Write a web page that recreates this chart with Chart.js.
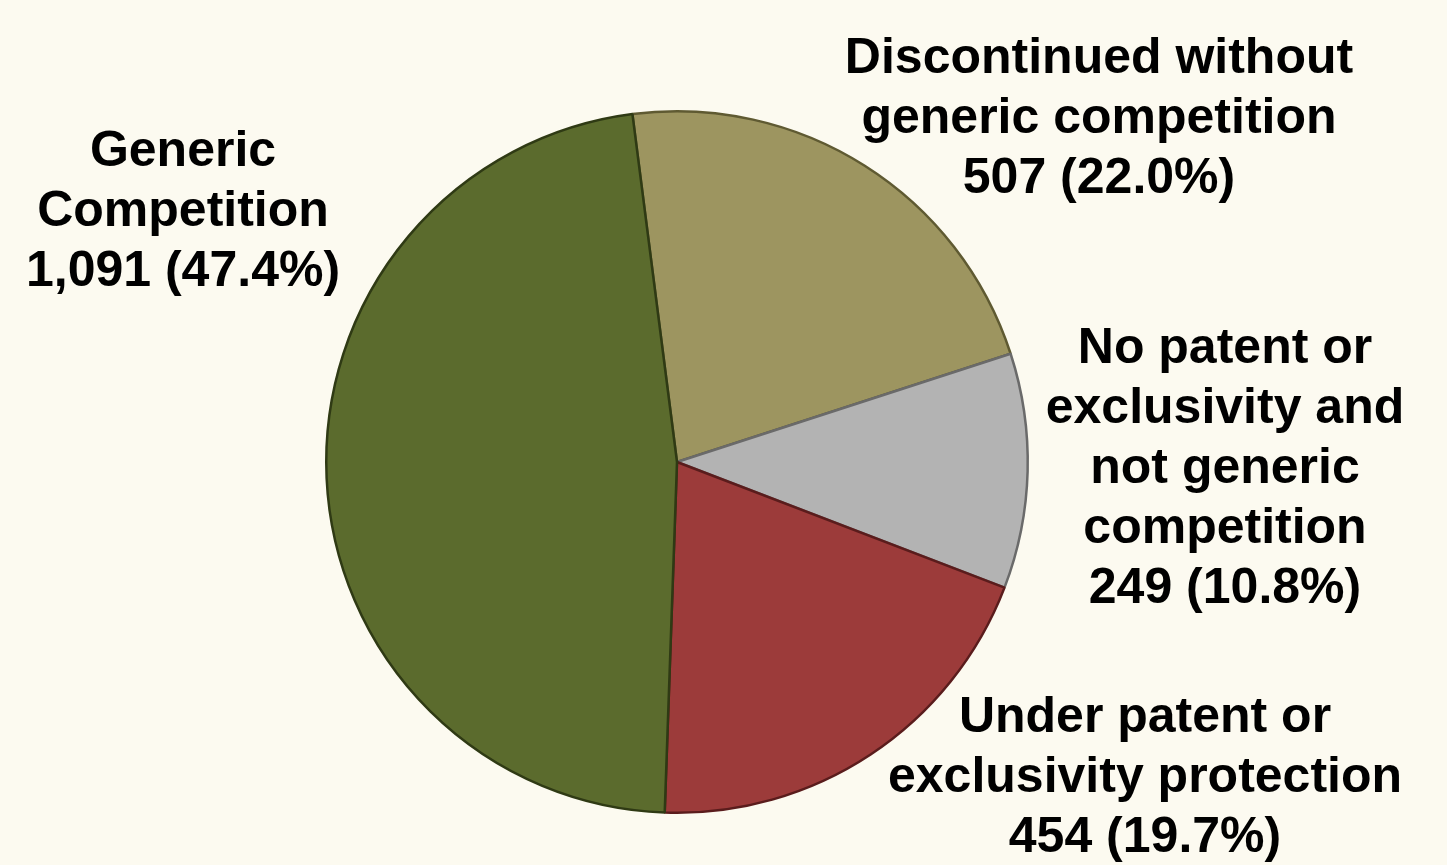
<!DOCTYPE html>
<html>
<head>
<meta charset="utf-8">
<script src="https://cdn.jsdelivr.net/npm/chart.js@4.4.1/dist/chart.umd.min.js"></script>
<style>
  html, body { margin: 0; padding: 0; background: #fcfaf0; }
  #wrap { width: 1447px; height: 865px; position: relative; }
</style>
</head>
<body>
<div id="wrap"><canvas id="myChart"></canvas></div>
<script>
/* chart data */
const categories = [
  'Discontinued without generic competition',
  'No patent or exclusivity and not generic competition',
  'Under patent or exclusivity protection',
  'Generic Competition'
];
const counts = [507, 249, 454, 1091];
const percents = ['22.0%', '10.8%', '19.7%', '47.4%'];
const labelLines = [
  ['Discontinued without', 'generic competition'],
  ['No patent or', 'exclusivity and', 'not generic', 'competition'],
  ['Under patent or', 'exclusivity protection'],
  ['Generic', 'Competition']
];

// styling
const sliceColors = ['#9d9560', '#b3b3b3', '#9c3b3a', '#5b6b2d'];
const sliceBorders = ['#5f5a32', '#6a6a6a', '#5a1c1c', '#2f3a14'];
// label anchor (center x, first line y) in px
const labelPos = [[1099, 59], [1225, 349], [1145, 718], [183, 152]];

const fmt = n => n.toLocaleString('en-US');

const labelPlugin = {
  id: 'sliceLabels',
  afterDraw(chart) {
    const ctx = chart.ctx;
    ctx.save();
    ctx.font = 'bold 50px "Liberation Sans", Arial, sans-serif';
    ctx.fillStyle = '#000';
    ctx.textAlign = 'center';
    ctx.textBaseline = 'middle';
    labelLines.forEach((lines, i) => {
      const all = lines.concat([fmt(counts[i]) + ' (' + percents[i] + ')']);
      all.forEach((t, j) => {
        ctx.fillText(t, labelPos[i][0], labelPos[i][1] + j * 60);
      });
    });
    ctx.restore();
  }
};

function initChart() {
  const ctx = document.getElementById('myChart');
  new Chart(ctx, {
    type: 'pie',
    data: {
      labels: categories,
      datasets: [{
        data: counts,
        backgroundColor: sliceColors,
        borderColor: sliceBorders,
        borderWidth: 2.5
      }]
    },
    options: {
      responsive: true,
      maintainAspectRatio: false,
      animation: false,
      rotation: -7.3,
      layout: { padding: { top: 110, bottom: 51, left: 325, right: 418 } },
      plugins: {
        legend: { display: false },
        tooltip: { enabled: false }
      }
    },
    plugins: [labelPlugin]
  });
}

initChart();
</script>
</body>
</html>
